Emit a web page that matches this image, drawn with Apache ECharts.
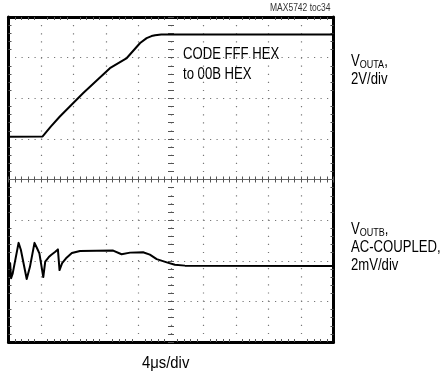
<!DOCTYPE html>
<html><head><meta charset="utf-8">
<script src="https://cdn.jsdelivr.net/npm/echarts@6/dist/echarts.min.js"></script>
<style>html,body{margin:0;padding:0;background:#fff}#c{width:448px;height:375px}</style>
</head><body><div id="c"></div>
<script>
// Time axis: divisions (4us/div), 10 divisions
const xTicks = [0,1,2,3,4,5,6,7,8,9,10];
// Vertical: 8 divisions
const yTicks = [0,1,2,3,4,5,6,7,8];
// VOUTA trace (divisions)
const voutaX = [0, 1.05, 1.30, 1.58, 2.30, 3.12, 3.64, 4.05, 4.25, 4.40, 4.51, 4.70, 4.87, 10];
const voutaY = [5.05, 5.06, 5.30, 5.55, 6.13, 6.74, 6.99, 7.36, 7.48, 7.53, 7.55, 7.57, 7.57, 7.57];
// VOUTB trace (divisions)
const voutbX = [0, 0.05, 0.08, 0.13, 0.31, 0.38, 0.56, 0.66, 0.80, 0.90, 0.95, 1.07, 1.13, 1.24, 1.31, 1.44, 1.52, 1.57, 1.65, 1.77, 1.95, 2.20, 3.22, 3.48, 3.74, 4.14, 4.35, 4.56, 4.87, 5.12, 5.43, 10];
const voutbY = [1.85, 1.94, 1.57, 1.69, 2.44, 2.27, 1.55, 1.85, 2.44, 2.27, 2.18, 1.60, 1.98, 2.09, 2.14, 2.22, 2.28, 1.77, 1.94, 2.06, 2.19, 2.24, 2.25, 2.16, 2.20, 2.21, 2.15, 2.04, 1.96, 1.90, 1.88, 1.87];

const FONT = '"Liberation Sans",Arial,sans-serif';
const NARROW = 0.82;
const G = {left: 8.5, top: 17, width: 325, height: 325};

function frameX(pos) {
  return {type:'value', min:xTicks[0], max:xTicks[xTicks.length-1], interval:1, position:pos,
    axisLine:{show:true, onZero:false, lineStyle:{color:'#000', width:3}},
    axisTick:{show:false, inside:true}, axisLabel:{show:false},
    minorTick:{show:true, splitNumber:5, length:3, lineStyle:{color:'#555', width:1}},
    splitLine:{show:pos==='bottom', lineStyle:{color:'#777', width:1.2, type:[1.2, 6.9], dashOffset:0}}};
}
function frameY(pos) {
  return {type:'value', min:yTicks[0], max:yTicks[yTicks.length-1], interval:1, position:pos,
    axisLine:{show:true, onZero:false, lineStyle:{color:'#000', width:3}},
    axisTick:{show:false, inside:true}, axisLabel:{show:false},
    minorTick:{show:true, splitNumber:5, length:3, lineStyle:{color:'#555', width:1}},
    splitLine:{show:pos==='left', lineStyle:{color:'#777', width:1.2, type:[1.2, 5.3], dashOffset:0}}};
}
function centerX(inside, line) {
  return {type:'value', min:0, max:10, interval:1, position:'bottom', offset:-G.height/2,
    axisLine:{show:line, onZero:false, lineStyle:{color:'#666', width:1.2}},
    axisTick:{show:true, inside:inside, length:3, lineStyle:{color:'#555'}}, axisLabel:{show:false},
    minorTick:{show:true, splitNumber:5, length:3, lineStyle:{color:'#555', width:1}},
    splitLine:{show:false}};
}
function centerY(inside) {
  return {type:'value', min:0, max:8, interval:1, position:'left', offset:-G.width/2,
    axisLine:{show:false, onZero:false},
    axisTick:{show:true, inside:inside, length:3, lineStyle:{color:'#555'}}, axisLabel:{show:false},
    minorTick:{show:true, splitNumber:5, length:3, lineStyle:{color:'#555', width:1}},
    splitLine:{show:false}};
}
const rich = {
  v:{fontSize:16, fontFamily:FONT, fill:'#000', lineHeight:18},
  s:{fontSize:11, fontFamily:FONT, fill:'#000', padding:[6,0,0,0], lineHeight:18},
  n:{fontSize:16, fontFamily:FONT, fill:'#000', lineHeight:18}
};

const chart = echarts.init(document.getElementById('c'), null, {renderer:'canvas'});
chart.setOption({
  animation:false,
  grid:{left:G.left, top:G.top, width:G.width, height:G.height, show:false},
  xAxis:[frameX('bottom'), frameX('top'), centerX(true, true), centerX(false, false)],
  yAxis:[frameY('left'), frameY('right'), centerY(true), centerY(false)],
  series:[
    {type:'line', xAxisIndex:0, yAxisIndex:0, showSymbol:false,
     data: voutaX.map((x,i)=>[x, voutaY[i]]), lineStyle:{color:'#000', width:2}},
    {type:'line', xAxisIndex:0, yAxisIndex:0, showSymbol:false,
     data: voutbX.map((x,i)=>[x, voutbY[i]]), lineStyle:{color:'#000', width:2, join:'round'}}
  ],
  graphic:[
    {type:'text', x:183, y:45, scaleX:NARROW, style:{text:'CODE FFF HEX\nto 00B HEX', font:'16px '+FONT, fill:'#000', lineHeight:20}},
    {type:'text', x:270, y:3, scaleX:0.85, style:{text:'MAX5742 toc34', font:'10px '+FONT, fill:'#333'}},
    {type:'text', x:351, y:53, scaleX:NARROW, style:{rich:rich, text:'{v|V}{s|OUTA}{v|,}\n{n|2V/div}'}},
    {type:'text', x:351, y:221, scaleX:NARROW, style:{rich:rich, text:'{v|V}{s|OUTB}{v|,}\n{n|AC-COUPLED,}\n{n|2mV/div}'}},
    {type:'text', x:142, y:355, scaleX:0.9, style:{text:'4\u03bcs/div', font:'16.5px '+FONT, fill:'#000'}}
  ]
});
</script></body></html>
